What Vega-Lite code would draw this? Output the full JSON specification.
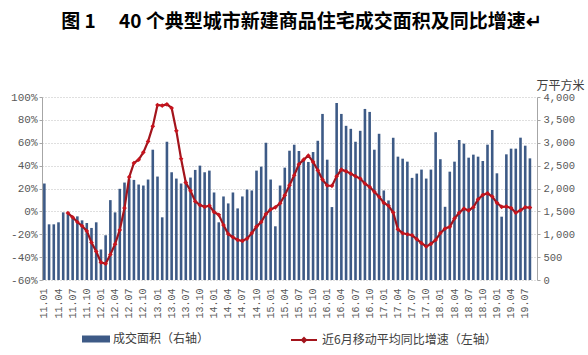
{
  "$schema": "https://vega.github.io/schema/vega-lite/v6.json",
  "width": 495,
  "height": 183,
  "autosize": {"type": "none"},
  "padding": {"left": 42, "top": 97, "right": 51, "bottom": 75},
  "background": "white",
  "title": {
    "text": "图 1　 40 个典型城市新建商品住宅成交面积及同比增速↵",
    "font": "Noto Sans CJK SC",
    "fontSize": 19,
    "fontWeight": "bold",
    "color": "#000000",
    "anchor": "middle",
    "frame": "group",
    "offset": 47,
    "dx": 12
  },
  "config": {"view": {"stroke": null}},
  "data": {
    "values": [
      {"m": "11.01", "v": 2109, "p": null},
      {"m": "11.02", "v": 1217, "p": null},
      {"m": "11.03", "v": 1217, "p": null},
      {"m": "11.04", "v": 1261, "p": null},
      {"m": "11.05", "v": 1478, "p": null},
      {"m": "11.06", "v": 1450, "p": -1.4},
      {"m": "11.07", "v": 1391, "p": -5.2},
      {"m": "11.08", "v": 1391, "p": -9.3},
      {"m": "11.09", "v": 1304, "p": -12.8},
      {"m": "11.10", "v": 1246, "p": -17.1},
      {"m": "11.11", "v": 1138, "p": -27.2},
      {"m": "11.12", "v": 1261, "p": -35},
      {"m": "12.01", "v": 667, "p": -44.6},
      {"m": "12.02", "v": 978, "p": -45.8},
      {"m": "12.03", "v": 1746, "p": -37.7},
      {"m": "12.04", "v": 1478, "p": -28.7},
      {"m": "12.05", "v": 1993, "p": -16.2},
      {"m": "12.06", "v": 2130, "p": 2.9},
      {"m": "12.07", "v": 2200, "p": 30},
      {"m": "12.08", "v": 2188, "p": 42.3},
      {"m": "12.09", "v": 2087, "p": 45.2},
      {"m": "12.10", "v": 2065, "p": 51.6},
      {"m": "12.11", "v": 2196, "p": 61.2},
      {"m": "12.12", "v": 2848, "p": 74.5},
      {"m": "13.01", "v": 2261, "p": 93},
      {"m": "13.02", "v": 1370, "p": 92.5},
      {"m": "13.03", "v": 3022, "p": 93.6},
      {"m": "13.04", "v": 2355, "p": 90.4},
      {"m": "13.05", "v": 2217, "p": 70.4},
      {"m": "13.06", "v": 2109, "p": 46},
      {"m": "13.07", "v": 2174, "p": 25.2},
      {"m": "13.08", "v": 2239, "p": 18},
      {"m": "13.09", "v": 2406, "p": 8.7},
      {"m": "13.10", "v": 2500, "p": 5.5},
      {"m": "13.11", "v": 2355, "p": 4},
      {"m": "13.12", "v": 2391, "p": 5},
      {"m": "14.01", "v": 1913, "p": -0.6},
      {"m": "14.02", "v": 1261, "p": -3},
      {"m": "14.03", "v": 1826, "p": -12},
      {"m": "14.04", "v": 1674, "p": -19.7},
      {"m": "14.05", "v": 1913, "p": -22.6},
      {"m": "14.06", "v": 1565, "p": -25},
      {"m": "14.07", "v": 1826, "p": -25.8},
      {"m": "14.08", "v": 1978, "p": -23.8},
      {"m": "14.09", "v": 1957, "p": -19},
      {"m": "14.10", "v": 2391, "p": -13.3},
      {"m": "14.11", "v": 2478, "p": -9.3},
      {"m": "14.12", "v": 3000, "p": -2.3},
      {"m": "15.01", "v": 2196, "p": 1.7},
      {"m": "15.02", "v": 1174, "p": 3.5},
      {"m": "15.03", "v": 2065, "p": 7},
      {"m": "15.04", "v": 2456, "p": 14},
      {"m": "15.05", "v": 2826, "p": 22.9},
      {"m": "15.06", "v": 2957, "p": 31.6},
      {"m": "15.07", "v": 2819, "p": 41.2},
      {"m": "15.08", "v": 2638, "p": 45.2},
      {"m": "15.09", "v": 2580, "p": 48.7},
      {"m": "15.10", "v": 2797, "p": 43.2},
      {"m": "15.11", "v": 3043, "p": 35.9},
      {"m": "15.12", "v": 3630, "p": 27.8},
      {"m": "16.01", "v": 2630, "p": 22.6},
      {"m": "16.02", "v": 1594, "p": 22.3},
      {"m": "16.03", "v": 3869, "p": 30.7},
      {"m": "16.04", "v": 3630, "p": 36.5},
      {"m": "16.05", "v": 3370, "p": 35},
      {"m": "16.06", "v": 3304, "p": 33},
      {"m": "16.07", "v": 3022, "p": 30.7},
      {"m": "16.08", "v": 3261, "p": 28.7},
      {"m": "16.09", "v": 3739, "p": 24.3},
      {"m": "16.10", "v": 3674, "p": 21.4},
      {"m": "16.11", "v": 2848, "p": 17.1},
      {"m": "16.12", "v": 3196, "p": 12.8},
      {"m": "17.01", "v": 1957, "p": 7.5},
      {"m": "17.02", "v": 1739, "p": 4.9},
      {"m": "17.03", "v": 3109, "p": -1},
      {"m": "17.04", "v": 2696, "p": -15.7},
      {"m": "17.05", "v": 2652, "p": -19.1},
      {"m": "17.06", "v": 2587, "p": -20},
      {"m": "17.07", "v": 2232, "p": -20.9},
      {"m": "17.08", "v": 2326, "p": -24.3},
      {"m": "17.09", "v": 2413, "p": -27.8},
      {"m": "17.10", "v": 2217, "p": -30.7},
      {"m": "17.11", "v": 2413, "p": -28.4},
      {"m": "17.12", "v": 3230, "p": -25},
      {"m": "18.01", "v": 2640, "p": -19},
      {"m": "18.02", "v": 1600, "p": -15},
      {"m": "18.03", "v": 2368, "p": -13.5},
      {"m": "18.04", "v": 2587, "p": -6.2},
      {"m": "18.05", "v": 3060, "p": -1.2},
      {"m": "18.06", "v": 2980, "p": 2.4},
      {"m": "18.07", "v": 2674, "p": 0.8},
      {"m": "18.08", "v": 2740, "p": 3.6},
      {"m": "18.09", "v": 2696, "p": 10.5},
      {"m": "18.10", "v": 2601, "p": 14.3},
      {"m": "18.11", "v": 2958, "p": 15.8},
      {"m": "18.12", "v": 3279, "p": 12.9},
      {"m": "19.01", "v": 2332, "p": 7.5},
      {"m": "19.02", "v": 1384, "p": 4},
      {"m": "19.03", "v": 2747, "p": 4.2},
      {"m": "19.04", "v": 2871, "p": 2.9},
      {"m": "19.05", "v": 2871, "p": -1.2},
      {"m": "19.06", "v": 3111, "p": 1},
      {"m": "19.07", "v": 2936, "p": 3.6},
      {"m": "19.08", "v": 2659, "p": 3.3}
    ]
  },
  "encoding": {
    "x": {
      "field": "m",
      "type": "ordinal",
      "sort": null,
      "scale": {"paddingInner": 0.45, "paddingOuter": 0.225},
      "axis": {
        "values": ["11.01","11.04","11.07","11.10","12.01","12.04","12.07","12.10","13.01","13.04","13.07","13.10","14.01","14.04","14.07","14.10","15.01","15.04","15.07","15.10","16.01","16.04","16.07","16.10","17.01","17.04","17.07","17.10","18.01","18.04","18.07","18.10","19.01","19.04","19.07"],
        "labelAngle": -90,
        "labelOverlap": false,
        "title": null,
        "domain": false,
        "ticks": false,
        "tickSize": 0,
        "grid": false,
        "labelFont": "Liberation Mono",
        "labelFontSize": 10,
        "labelColor": "#595959",
        "labelPadding": 8
      }
    }
  },
  "layer": [
    {
      "mark": {"type": "bar"},
      "encoding": {
        "y": {
          "field": "v",
          "type": "quantitative",
          "scale": {"domain": [0, 4000]},
          "axis": {
            "orient": "right",
            "values": [0, 500, 1000, 1500, 2000, 2500, 3000, 3500, 4000],
            "labelExpr": "format(datum.value, ',')",
            "labelOverlap": false,
            "grid": false,
            "domainColor": "#a6a6a6",
            "tickColor": "#a6a6a6",
            "tickSize": 3,
            "labelPadding": 3,
            "labelFont": "Liberation Mono",
            "labelFontSize": 10.5,
            "labelColor": "#595959",
            "title": "万平方米",
            "titleFont": "Noto Sans CJK SC",
            "titleFontSize": 12,
            "titleFontWeight": "normal",
            "titleColor": "#404040",
            "titleAngle": 0,
            "titleAlign": "center",
            "titleBaseline": "middle",
            "titleX": 23,
            "titleY": -12
          }
        },
        "fill": {
          "datum": "成交面积（右轴）",
          "scale": {"range": ["#3d5a86"]},
          "legend": {
            "title": null,
            "orient": "none",
            "legendX": 40,
            "legendY": 228,
            "padding": 0,
            "symbolType": "M-1,-0.25H1V0.25H-1Z",
            "symbolSize": 784,
            "symbolStrokeWidth": 0,
            "labelOffset": 3,
            "labelLimit": 300,
            "labelFont": "Noto Sans CJK SC",
            "labelFontSize": 12,
            "labelColor": "#404040"
          }
        }
      }
    },
    {
      "layer": [
        {
          "data": {"values": [{"z": 0}]},
          "mark": {"type": "rule", "color": "#dcdcdc", "strokeWidth": 1.2},
          "encoding": {
            "y": {
              "field": "z",
              "type": "quantitative",
              "scale": {"domain": [-60, 100]},
              "title": null,
              "axis": {
                "orient": "left",
                "values": [-60, -40, -20, 0, 20, 40, 60, 80, 100],
                "labelExpr": "datum.value + '%'",
                "labelOverlap": false,
                "grid": true,
                "gridColor": "#bfbfbf",
                "gridDash": [1, 2],
                "domainColor": "#a6a6a6",
                "tickColor": "#a6a6a6",
                "tickSize": 3,
                "labelPadding": 2,
                "labelFont": "Liberation Mono",
                "labelFontSize": 11,
                "labelColor": "#595959",
                "title": null
              }
            }
          }
        },
        {
          "mark": {"type": "line", "strokeWidth": 2.2},
          "encoding": {
            "y": {
              "field": "p",
              "type": "quantitative",
              "scale": {"domain": [-60, 100]},
              "title": null,
              "axis": {
                "orient": "left",
                "values": [-60, -40, -20, 0, 20, 40, 60, 80, 100],
                "labelExpr": "datum.value + '%'",
                "labelOverlap": false,
                "grid": true,
                "gridColor": "#bfbfbf",
                "gridDash": [1, 2],
                "domainColor": "#a6a6a6",
                "tickColor": "#a6a6a6",
                "tickSize": 3,
                "labelPadding": 2,
                "labelFont": "Liberation Mono",
                "labelFontSize": 11,
                "labelColor": "#595959",
                "title": null
              }
            },
            "stroke": {
              "datum": "近6月移动平均同比增速（左轴）",
              "scale": {"range": ["#a3141c"]},
              "legend": {
                "title": null,
                "orient": "none",
                "legendX": 248,
                "legendY": 229,
                "padding": 0,
                "symbolType": "M-1,0H1M0,-0.16L0.16,0L0,0.16L-0.16,0Z",
                "symbolSize": 676,
                "symbolStrokeWidth": 2,
                "symbolFillColor": "#c0141e",
                "labelOffset": 4,
                "labelLimit": 300,
                "labelFont": "Noto Sans CJK SC",
                "labelFontSize": 12,
                "labelColor": "#404040"
              }
            }
          }
        },
        {
          "mark": {"type": "point", "shape": "diamond", "filled": true, "size": 22, "color": "#c8141e", "opacity": 1},
          "encoding": {
            "y": {
              "field": "p",
              "type": "quantitative",
              "scale": {"domain": [-60, 100]},
              "title": null,
              "axis": {
                "orient": "left",
                "values": [-60, -40, -20, 0, 20, 40, 60, 80, 100],
                "labelExpr": "datum.value + '%'",
                "labelOverlap": false,
                "grid": true,
                "gridColor": "#bfbfbf",
                "gridDash": [1, 2],
                "domainColor": "#a6a6a6",
                "tickColor": "#a6a6a6",
                "tickSize": 3,
                "labelPadding": 2,
                "labelFont": "Liberation Mono",
                "labelFontSize": 11,
                "labelColor": "#595959",
                "title": null
              }
            }
          }
        }
      ]
    }
  ],
  "resolve": {"scale": {"y": "independent", "fill": "independent", "stroke": "independent"}}
}
